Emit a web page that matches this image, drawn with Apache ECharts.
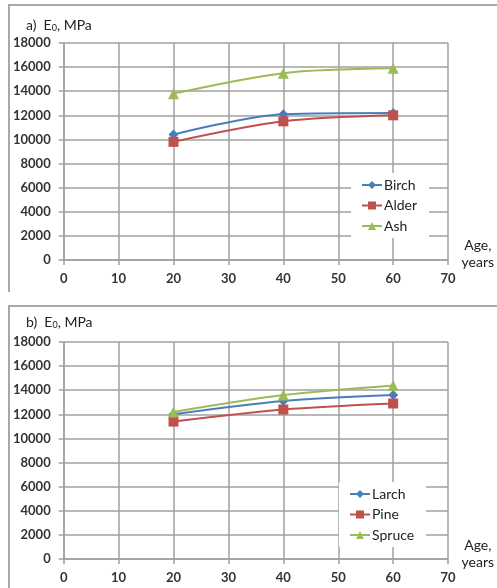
<!DOCTYPE html>
<html>
<head>
<meta charset="utf-8">
<script src="https://cdn.jsdelivr.net/npm/echarts@6/dist/echarts.min.js"></script>
<style>
  html, body { margin: 0; padding: 0; background: #fff; overflow: hidden; }
  .panel { position: absolute; border-top: 2px solid #a8a8a8; border-left: 2px solid #a8a8a8; box-sizing: border-box; }
  #chartA { left: 8px; top: 4px; width: 489px; height: 288px; }
  #chartB { left: 8px; top: 305px; width: 489px; height: 283px; }
</style>
</head>
<body>
<div id="chartA" class="panel"></div>
<div id="chartB" class="panel"></div>
<script>
// ages (years) at which the samples were measured
const ages = [20, 40, 60];

// panel a) hardwoods, E0 in MPa
const birch = [10400, 12100, 12200];
const alder = [9800, 11500, 12000];
const ash = [13800, 15500, 15900];

// panel b) conifers, E0 in MPa
const larch = [12000, 13100, 13600];
const pine = [11400, 12400, 12900];
const spruce = [12200, 13600, 14400];

const FONT = 'Lato, "Open Sans", sans-serif';
const GRID_COLOR = '#a0a0a0';
const colors = ['#4a7ebb', '#c0504d', '#9bbb59'];
const symbols = ['diamond', 'rect', 'triangle'];
const symbolSizes = [10, 10, 11];

const toPairs = vals => vals.map((v, i) => [ages[i], v]);

const buildOption = (label, names, seriesVals, titleTop, legendPos) => ({
  animation: false,
  color: colors,
  title: {
    left: 11,
    top: titleTop,
    text: '{t|' + label + ')  E}{s|0}{t|, MPa}',
    textStyle: {
      fontWeight: 'normal',
      rich: {
        t: { fontFamily: FONT, fontSize: 14, color: '#222', fontWeight: 'normal' },
        s: { fontFamily: FONT, fontSize: 9, color: '#222', fontWeight: 'normal', padding: [7, 0, 0, 0] },
      },
    },
  },
  legend: {
    orient: 'vertical',
    left: legendPos.left,
    top: legendPos.top,
    padding: [5, 12, 5, 10],
    backgroundColor: '#fff',
    itemWidth: 20,
    itemHeight: 10,
    itemGap: 6.5,
    data: names,
    textStyle: { fontFamily: FONT, fontSize: 14, color: '#222', padding: [0, 0, 0, -3] },
  },
  grid: { left: 52, top: legendPos.gridTop, width: 387, height: 217 },
  xAxis: {
    type: 'value',
    min: 0,
    max: 70,
    interval: 10,
    // trailing spacer line lifts the two-line name above the axis end
    name: '{n|Age,}\n{n|years}\n{g| }',
    nameLocation: 'end',
    nameGap: 27,
    nameTextStyle: {
      align: 'center',
      verticalAlign: 'middle',
      rich: {
        n: { fontFamily: FONT, fontSize: 14, color: '#222', lineHeight: 17, align: 'center' },
        g: { fontSize: 1, lineHeight: legendPos.nameSpacer },
      },
    },
    axisLine: { lineStyle: { color: GRID_COLOR, width: 1.5 } },
    axisTick: { show: true, length: 5, lineStyle: { color: GRID_COLOR, width: 1.5 } },
    axisLabel: { margin: 12, fontFamily: FONT, fontSize: 13, fontWeight: 'bold', color: '#333' },
    splitLine: { show: true, lineStyle: { color: GRID_COLOR, width: 1.5 } },
  },
  yAxis: {
    type: 'value',
    min: 0,
    max: 18000,
    interval: 2000,
    axisLine: { show: true, lineStyle: { color: GRID_COLOR, width: 1.5 } },
    axisTick: { show: true, length: 5, lineStyle: { color: GRID_COLOR, width: 1.5 } },
    axisLabel: {
      margin: 13, fontFamily: FONT, fontSize: 13, fontWeight: 'bold', color: '#333',
      formatter: v => String(v),
    },
    splitLine: { show: true, lineStyle: { color: GRID_COLOR, width: 1.5 } },
  },
  series: names.map((name, i) => ({
    name,
    type: 'line',
    smooth: 0.3,
    symbol: symbols[i],
    symbolSize: symbolSizes[i],
    lineStyle: { width: 2 },
    data: toPairs(seriesVals[i]),
  })),
});

const chartA = echarts.init(document.getElementById('chartA'));
chartA.setOption(buildOption('a', ['Birch', 'Alder', 'Ash'], [birch, alder, ash], 6,
  { left: 341, top: 167, gridTop: 37, nameSpacer: 13 }));

const chartB = echarts.init(document.getElementById('chartB'));
chartB.setOption(buildOption('b', ['Larch', 'Pine', 'Spruce'], [larch, pine, spruce], 2,
  { left: 329, top: 175, gridTop: 35, nameSpacer: 10 }));
</script>
</body>
</html>
